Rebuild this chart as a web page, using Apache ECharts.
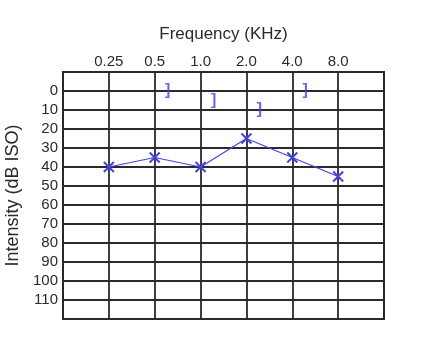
<!DOCTYPE html>
<html><head><meta charset="utf-8">
<script src="https://cdn.jsdelivr.net/npm/echarts@6/dist/echarts.min.js"></script>
<style>html,body{margin:0;padding:0;background:#fff}#c{width:436px;height:356px}</style>
</head><body><div id="c"></div>
<script>
const freqLabels = ['0.25','0.5','1.0','2.0','4.0','8.0'];
const airValues = [40, 35, 40, 25, 35, 45];
const boneFreqIdx = [1, 2, 3, 4];
const boneValues = [0, 5, 10, 0];

const airData = airValues.map((v,i)=>[i+1, v]);
const boneData = boneValues.map((v,i)=>[boneFreqIdx[i]+1, v]);
const blue = '#4444dd';
const txt = '#2a2a2a';
const chart = echarts.init(document.getElementById('c'));
chart.setOption({
  animation:false,
  grid:{left:63,right:52,top:72,bottom:37,outerBoundsMode:'none',containLabel:false,show:true,borderColor:'#222',borderWidth:2,backgroundColor:'transparent'},
  xAxis:{type:'value',position:'top',min:0,max:7,interval:1,
    name:'Frequency (KHz)',nameLocation:'middle',nameGap:29,
    nameTextStyle:{color:txt,fontSize:17,fontFamily:'Arial'},
    axisLine:{show:false},axisTick:{show:false},
    axisLabel:{margin:3,color:txt,fontSize:15,fontFamily:'Arial',
      formatter:v=>(v>=1&&v<=6)?freqLabels[v-1]:''},
    splitLine:{show:true,lineStyle:{color:'#2a2a2a',width:1.8}}},
  yAxis:{type:'value',inverse:true,min:-10,max:120,interval:10,
    name:'Intensity (dB ISO)',nameLocation:'middle',nameGap:39,
    nameTextStyle:{color:txt,fontSize:18,fontFamily:'Arial'},
    axisLine:{show:false},axisTick:{show:false},
    axisLabel:{margin:5,color:txt,fontSize:15,fontFamily:'Arial',
      formatter:v=>(v>=0&&v<=110)?String(v):''},
    splitLine:{show:true,lineStyle:{color:'#2a2a2a',width:1.8}}},
  series:[
    {type:'line',data:airData,symbol:'path://M0,0L10,10M10,0L0,10',symbolSize:10,
      lineStyle:{color:blue,width:1.2},
      itemStyle:{color:'none',borderColor:blue,borderWidth:2}},
    {type:'scatter',data:boneData,symbolSize:0,
      label:{show:true,formatter:']',position:'inside',offset:[13,0],color:blue,fontSize:16,fontWeight:'bold',fontFamily:'Arial'}}
  ]
});
</script></body></html>
